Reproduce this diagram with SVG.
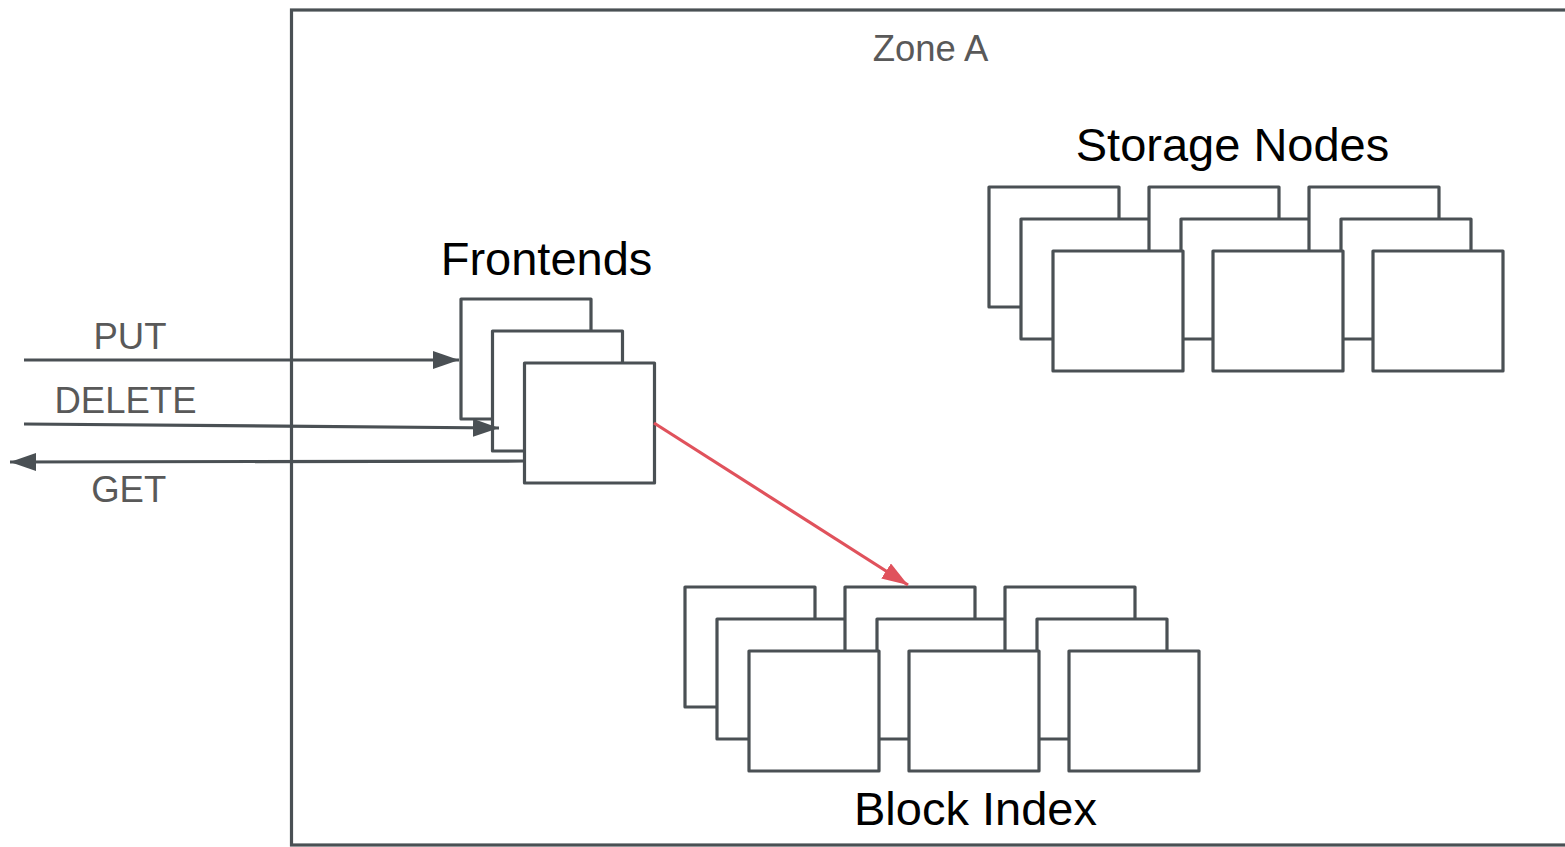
<svg xmlns="http://www.w3.org/2000/svg" width="1565" height="847" viewBox="0 0 1565 847">
<style>
  .zone { fill: #ffffff; stroke: #4a5054; stroke-width: 3.2; }
  .box { fill: #ffffff; stroke: #4a5054; stroke-width: 3.2; stroke-linejoin: round; }
  .big { font-family: "Liberation Sans", Arial, sans-serif; font-size: 47px; fill: #000000; text-anchor: middle; }
  .small { font-family: "Liberation Sans", Arial, sans-serif; font-size: 36.5px; fill: #595959; text-anchor: middle; }
  .conn { fill: none; stroke: #4a5054; stroke-width: 3.2; }
  .red { fill: none; stroke: #e0525c; stroke-width: 3.2; }
</style>
<defs>
  <marker id="ah" markerUnits="userSpaceOnUse" markerWidth="27" markerHeight="19" refX="26" refY="9" orient="auto">
    <path d="M0,0 L26,9 L0,18 z" fill="#4a5054"/>
  </marker>
  <marker id="ahr" markerUnits="userSpaceOnUse" markerWidth="27" markerHeight="19" refX="26" refY="9" orient="auto">
    <path d="M0,0 L26,9 L0,18 z" fill="#e0525c"/>
  </marker>
</defs>
<rect width="1565" height="847" fill="#ffffff"/>
<g id="zoneA">
  <rect class="zone" x="291.5" y="10" width="1300" height="835"/>
  <text class="small" x="930.5" y="61">Zone A</text>
</g>
<g id="frontends">
  <rect class="box" x="461" y="299" width="130" height="120"/>
  <rect class="box" x="492.5" y="331" width="130" height="120"/>
  <rect class="box" x="524.5" y="363" width="130" height="120"/>
  <text class="big" x="546.5" y="275">Frontends</text>
</g>
<g id="storage-nodes">
  <rect class="box" x="989" y="187" width="130" height="120"/>
  <rect class="box" x="1021" y="219" width="130" height="120"/>
  <rect class="box" x="1149" y="187" width="130" height="120"/>
  <rect class="box" x="1181" y="219" width="130" height="120"/>
  <rect class="box" x="1309" y="187" width="130" height="120"/>
  <rect class="box" x="1341" y="219" width="130" height="120"/>
  <rect class="box" x="1053" y="251" width="130" height="120"/>
  <rect class="box" x="1213" y="251" width="130" height="120"/>
  <rect class="box" x="1373" y="251" width="130" height="120"/>
  <text class="big" x="1232.5" y="161">Storage Nodes</text>
</g>
<g id="block-index">
  <rect class="box" x="685" y="587" width="130" height="120"/>
  <rect class="box" x="717" y="619" width="130" height="120"/>
  <rect class="box" x="845" y="587" width="130" height="120"/>
  <rect class="box" x="877" y="619" width="130" height="120"/>
  <rect class="box" x="1005" y="587" width="130" height="120"/>
  <rect class="box" x="1037" y="619" width="130" height="120"/>
  <rect class="box" x="749" y="651" width="130" height="120"/>
  <rect class="box" x="909" y="651" width="130" height="120"/>
  <rect class="box" x="1069" y="651" width="130" height="120"/>
  <text class="big" x="975.5" y="825">Block Index</text>
</g>
<g id="connectors">
  <line class="conn" x1="24" y1="360" x2="459" y2="360" marker-end="url(#ah)"/>
  <line class="conn" x1="24" y1="424" x2="499" y2="428" marker-end="url(#ah)"/>
  <line class="conn" x1="524" y1="461" x2="10" y2="462" marker-end="url(#ah)"/>
  <line class="red" x1="654" y1="423" x2="908" y2="585" marker-end="url(#ahr)"/>
  <text class="small" x="130" y="349">PUT</text>
  <text class="small" x="125.5" y="413">DELETE</text>
  <text class="small" x="128.7" y="502">GET</text>
</g>
</svg>
